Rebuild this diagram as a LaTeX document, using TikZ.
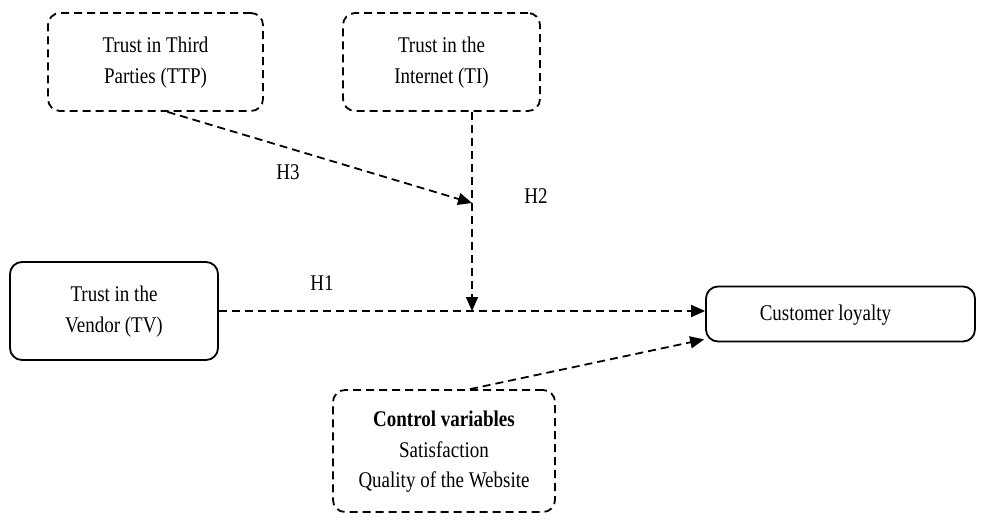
\documentclass[tikz,border=0pt]{standalone}
\usepackage{fontspec}
\setmainfont{Liberation Serif}
\usetikzlibrary{arrows.meta,calc}
\newcommand{\tallt}[1]{\scalebox{1}[1.18]{\begin{tabular}{@{}c@{}}#1\end{tabular}}}
\begin{document}
\begin{tikzpicture}[x=1pt,y=-1pt,
  every node/.style={font=\fontsize{19}{25.5}\selectfont},
  box/.style={draw, line width=1.8pt, rounded corners=12pt, align=center, inner sep=0pt},
  dbox/.style={box, dash pattern=on 8pt off 5pt},
  link/.style={line width=1.8pt, dash pattern=on 8pt off 5pt, -{Triangle[length=14pt,width=12pt]}},
  lbl/.style={inner sep=0pt}
]
\useasboundingbox (0,0) rectangle (992,525);
\node[dbox, minimum width=215pt, minimum height=98pt] (TTP) at (155.5,62) {\tallt{Trust in Third\\Parties (TTP)}};
\node[dbox, minimum width=197pt, minimum height=98pt] (TI) at (441.5,62) {\tallt{Trust in the\\Internet (TI)}};
\node[box, minimum width=208pt, minimum height=98pt] (TV) at (114,311) {\tallt{Trust in the\\Vendor (TV)}};
\node[box, minimum width=269pt, minimum height=55pt] (CL) at (840.5,314) {\tallt{Customer loyalty}\hspace*{30pt}};
\node[dbox, minimum width=222pt, minimum height=122pt] (CV) at (444,451) {\tallt{\textbf{Control variables}\\Satisfaction\\Quality of the Website}};
\coordinate (m) at (472,311);
\coordinate (h3) at (472,203);
\draw[link] (TV.east) -- (TV.east -| CL.west);
\draw[link] (TI.south -| m) -- (m);
\draw[link] ($(TTP.south)+(12,0)$) -- (h3);
\draw[link] ($(CV.north)+(26,0)$) -- ($(CL.south west)+(-1,-3)$);
\node[lbl] (H1) at (322,284) {\tallt{H1}};
\node[lbl] (H2) at (536,197) {\tallt{H2}};
\node[lbl] (H3) at (288,173) {\tallt{H3}};
\end{tikzpicture}
\end{document}
